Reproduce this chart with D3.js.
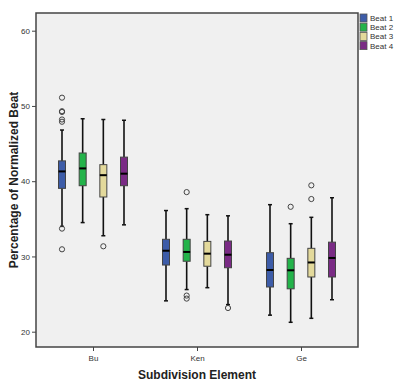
<!DOCTYPE html>
<html>
<head>
<meta charset="utf-8">
<script src="https://cdn.jsdelivr.net/npm/d3@7"></script>
<style>
  html, body { margin: 0; padding: 0; background: #ffffff; }
  svg { display: block; }
</style>
</head>
<body>
<svg id="chart" width="405" height="392"></svg>
<script>
// ---- data ----
const categories = ["Bu", "Ken", "Ge"];
const beats = ["Beat 1", "Beat 2", "Beat 3", "Beat 4"];
const beatColors = ["#3d5ca8", "#23b34a", "#e3d99b", "#7a2b85"];
const yTicks = [20, 30, 40, 50, 60];

// rows: categories; columns: beats
const lowWhisker = [
  [34.0, 34.5, 32.75, 34.2],
  [24.1, 25.6, 25.85, 23.6],
  [22.2, 21.25, 21.78, 24.25]
];
const q1 = [
  [39.05, 39.4, 37.9, 39.4],
  [28.86, 29.36, 28.7, 28.5],
  [25.94, 25.7, 27.27, 27.27]
];
const median = [
  [41.3, 41.7, 40.8, 41.0],
  [30.76, 30.6, 30.37, 30.23],
  [28.2, 28.16, 29.2, 29.8]
];
const q3 = [
  [42.7, 43.75, 42.2, 43.2],
  [32.28, 32.28, 32.0, 32.05],
  [30.5, 29.75, 31.08, 31.9]
];
const highWhisker = [
  [46.8, 48.3, 48.2, 48.1],
  [36.1, 36.35, 35.55, 35.4],
  [36.88, 34.35, 35.2, 37.8]
];
const outliers = [
  [[51.1, 49.3, 49.2, 48.2, 47.9, 33.7, 30.95], [], [31.35], []],
  [[], [38.55, 24.8, 24.4], [], [23.15]],
  [[], [36.6], [39.45, 37.63], []]
];

// ---- layout ----
const frame = { left: 36, right: 358, top: 13, bottom: 347 };
const boxW = 7;

const svg = d3.select("#chart");

const y = d3.scaleLinear().domain([20, 60]).range([331.7, 30.7]);
const x = d3.scalePoint().domain(categories).range([93, 301]);
const xOff = d3.scalePoint().domain(beats).range([-31, 31]);

// plot background + frame
svg.append("rect")
  .attr("x", frame.left).attr("y", frame.top)
  .attr("width", frame.right - frame.left).attr("height", frame.bottom - frame.top)
  .attr("fill", "#f0f0f0").attr("stroke", "#444").attr("stroke-width", 1.5);

// y axis
const yAxis = d3.axisLeft(y).tickValues(yTicks).tickSize(4).tickPadding(2);
const gy = svg.append("g").attr("transform", `translate(${frame.left},0)`).call(yAxis);
gy.select(".domain").remove();
gy.selectAll(".tick line").attr("stroke", "#444").attr("stroke-width", 1);
gy.selectAll(".tick text").attr("font-family", "Liberation Sans, Arial, sans-serif")
  .attr("font-size", 8).attr("fill", "#333");

// x axis
const xAxis = d3.axisBottom(x).tickSize(4).tickPadding(4);
const gx = svg.append("g").attr("transform", `translate(0,${frame.bottom})`).call(xAxis);
gx.select(".domain").remove();
gx.selectAll(".tick line").attr("stroke", "#444").attr("stroke-width", 1);
gx.selectAll(".tick text").attr("font-family", "Liberation Sans, Arial, sans-serif")
  .attr("font-size", 8).attr("fill", "#333");

// boxes
const items = [];
categories.forEach((c, ci) => {
  beats.forEach((b, bi) => {
    items.push({
      c, b, bi,
      cx: x(c) + xOff(b),
      lo: lowWhisker[ci][bi], q1: q1[ci][bi], med: median[ci][bi],
      q3: q3[ci][bi], hi: highWhisker[ci][bi], out: outliers[ci][bi]
    });
  });
});

const g = svg.append("g");
const bx = g.selectAll("g.box").data(items).join("g").attr("class", "box");

// whisker stems
bx.append("line")
  .attr("x1", d => d.cx).attr("x2", d => d.cx)
  .attr("y1", d => y(d.hi)).attr("y2", d => y(d.q3))
  .attr("stroke", "#111").attr("stroke-width", 1.6);
bx.append("line")
  .attr("x1", d => d.cx).attr("x2", d => d.cx)
  .attr("y1", d => y(d.q1)).attr("y2", d => y(d.lo))
  .attr("stroke", "#111").attr("stroke-width", 1.6);
// caps
bx.append("line")
  .attr("x1", d => d.cx - 2).attr("x2", d => d.cx + 2)
  .attr("y1", d => y(d.hi)).attr("y2", d => y(d.hi))
  .attr("stroke", "#111").attr("stroke-width", 1.5);
bx.append("line")
  .attr("x1", d => d.cx - 2).attr("x2", d => d.cx + 2)
  .attr("y1", d => y(d.lo)).attr("y2", d => y(d.lo))
  .attr("stroke", "#111").attr("stroke-width", 1.5);
// box
bx.append("rect")
  .attr("x", d => d.cx - boxW / 2).attr("width", boxW)
  .attr("y", d => y(d.q3)).attr("height", d => y(d.q1) - y(d.q3))
  .attr("fill", d => beatColors[d.bi]).attr("stroke", "#444").attr("stroke-width", 1);
// median
bx.append("line")
  .attr("x1", d => d.cx - boxW / 2).attr("x2", d => d.cx + boxW / 2)
  .attr("y1", d => y(d.med)).attr("y2", d => y(d.med))
  .attr("stroke", "#000").attr("stroke-width", 2);
// outliers
bx.selectAll("circle").data(d => d.out.map(v => ({ cx: d.cx, v }))).join("circle")
  .attr("cx", d => d.cx).attr("cy", d => y(d.v)).attr("r", 2.6)
  .attr("fill", "none").attr("stroke", "#444").attr("stroke-width", 1);

// legend
const lg = svg.append("g").attr("transform", "translate(360,14)");
const li = lg.selectAll("g").data(beats).join("g")
  .attr("transform", (d, i) => `translate(0,${i * 9.2})`);
li.append("rect").attr("x", 0).attr("y", 0).attr("width", 7).attr("height", 8)
  .attr("fill", (d, i) => beatColors[i]).attr("stroke", "#555").attr("stroke-width", 0.8);
li.append("text").attr("x", 10).attr("y", 7).text(d => d)
  .attr("font-family", "Liberation Sans, Arial, sans-serif").attr("font-size", 8).attr("fill", "#333");

// axis titles
svg.append("text")
  .attr("x", (frame.left + frame.right) / 2 + 0).attr("y", 378.5)
  .attr("text-anchor", "middle")
  .attr("font-family", "Liberation Sans, Arial, sans-serif").attr("font-weight", "bold")
  .attr("font-size", 12).attr("fill", "#222")
  .text("Subdivision Element");
svg.append("text")
  .attr("transform", `translate(17.5,${(frame.top + frame.bottom) / 2}) rotate(-90)`)
  .attr("text-anchor", "middle")
  .attr("font-family", "Liberation Sans, Arial, sans-serif").attr("font-weight", "bold")
  .attr("font-size", 12).attr("fill", "#222")
  .text("Percentage of Normalized Beat");
</script>
</body>
</html>
